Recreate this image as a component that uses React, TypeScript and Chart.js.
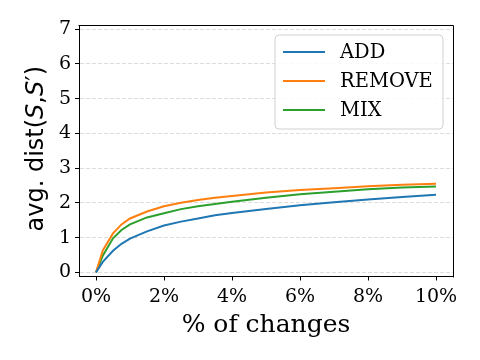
import React, { useEffect, useRef } from "react";
import { Chart, registerables } from "chart.js";

Chart.register(...registerables);

const xValues = [0, 0.2, 0.5, 0.75, 1, 1.5, 2, 2.5, 3, 3.5, 4, 5, 6, 7, 8, 9, 10];
const addValues = [0, 0.3, 0.62, 0.82, 0.97, 1.18, 1.35, 1.46, 1.55, 1.64, 1.71, 1.82, 1.93, 2.02, 2.1, 2.17, 2.23];
const removeValues = [0, 0.63, 1.12, 1.38, 1.55, 1.75, 1.9, 2.0, 2.08, 2.15, 2.2, 2.3, 2.37, 2.42, 2.48, 2.52, 2.55];
const mixValues = [0, 0.48, 0.98, 1.22, 1.38, 1.58, 1.7, 1.82, 1.9, 1.97, 2.03, 2.15, 2.25, 2.32, 2.39, 2.44, 2.47];
const seriesLabels = ["ADD", "REMOVE", "MIX"];
const seriesColors = ["#1f77b4", "#ff7f0e", "#2ca02c"];
const xTitle = "% of changes";

const SERIF = "'DejaVu Serif', serif";
const SANS = "'DejaVu Sans', sans-serif";

const framePlugin = {
  id: "frame",
  afterDraw(chart: any) {
    const { ctx, chartArea } = chart;
    const { left, right, top, bottom } = chartArea;
    ctx.save();
    ctx.strokeStyle = "#000";
    ctx.lineWidth = 1;
    ctx.beginPath();
    ctx.moveTo(Math.round(left) - 0.5, Math.round(top) + 0.5);
    ctx.lineTo(Math.round(right) + 0.5, Math.round(top) + 0.5);
    ctx.lineTo(Math.round(right) + 0.5, Math.round(bottom) + 0.5);
    ctx.stroke();

    // legend
    const bx = right - 178;
    const by = top + 10;
    const bw = 168;
    const bh = 94;
    const r = 4;
    ctx.fillStyle = "rgba(255,255,255,0.85)";
    ctx.strokeStyle = "#d0d0d0";
    ctx.beginPath();
    ctx.moveTo(bx + r, by);
    ctx.arcTo(bx + bw, by, bx + bw, by + bh, r);
    ctx.arcTo(bx + bw, by + bh, bx, by + bh, r);
    ctx.arcTo(bx, by + bh, bx, by, r);
    ctx.arcTo(bx, by, bx + bw, by, r);
    ctx.closePath();
    ctx.fill();
    ctx.stroke();
    chart.data.datasets.forEach((ds: any, i: number) => {
      const cy = by + 17 + i * 29;
      ctx.strokeStyle = ds.borderColor;
      ctx.lineWidth = 2;
      ctx.beginPath();
      ctx.moveTo(bx + 8, cy);
      ctx.lineTo(bx + 50, cy);
      ctx.stroke();
      ctx.fillStyle = "#000";
      ctx.font = `19.5px ${SERIF}`;
      ctx.textBaseline = "middle";
      ctx.textAlign = "left";
      ctx.fillText(ds.label, bx + 65, cy + 1);
    });

    // y-axis label with math italic parts
    const parts: [string, boolean][] = [
      ["avg. dist(", false],
      ["S", true],
      [",", false],
      ["S", true],
      ["\u2032", false],
      [")", false],
    ];
    const size = 24;
    let total = 0;
    const widths = parts.map(([t, it]) => {
      ctx.font = `${it ? "italic " : ""}${size}px ${SANS}`;
      const w = ctx.measureText(t).width;
      total += w;
      return w;
    });
    const cx = 37;
    const cyc = (top + bottom) / 2 - 2;
    ctx.translate(cx, cyc);
    ctx.rotate(-Math.PI / 2);
    let x = -total / 2;
    ctx.fillStyle = "#000";
    ctx.textBaseline = "middle";
    ctx.textAlign = "left";
    parts.forEach(([t, it], i) => {
      ctx.font = `${it ? "italic " : ""}${size}px ${SANS}`;
      ctx.fillText(t, x, 0);
      x += widths[i];
    });
    ctx.restore();
  },
};

export default function App() {
  const ref = useRef<HTMLCanvasElement>(null);
  useEffect(() => {
    if (!ref.current) return;
    const mk = (vals: number[]) => xValues.map((x, i) => ({ x, y: vals[i] }));
    const chart = new Chart(ref.current, {
      type: "line",
      data: {
        datasets: [addValues, removeValues, mixValues].map((v, i) => ({
          label: seriesLabels[i],
          data: mk(v),
          borderColor: seriesColors[i],
          backgroundColor: seriesColors[i],
          borderWidth: 2,
          pointRadius: 0,
          tension: 0,
          fill: false,
        })),
      },
      options: {
        animation: false,
        responsive: false,
        layout: { padding: { left: 0, top: 25, right: 27, bottom: 0 } },
        plugins: { legend: { display: false }, tooltip: { enabled: false } },
        scales: {
          x: {
            type: "linear",
            min: -0.5,
            max: 10.5,
            afterFit: (s: any) => {
              s.height = 83.5;
            },
            ticks: {
              stepSize: 2,
              includeBounds: false,
              maxRotation: 0,
              padding: 5,
              color: "#000",
              font: { family: SERIF, size: 19 },
              callback: (v: any) => `${v}%`,
            },
            grid: {
              drawOnChartArea: false,
              drawTicks: true,
              tickLength: 4,
              tickColor: "#000",
            },
            border: { display: true, color: "#000", width: 1 },
            title: {
              display: true,
              text: xTitle,
              color: "#000",
              font: { family: SERIF, size: 25 },
              padding: { top: 0, bottom: 20 },
            },
          },
          y: {
            type: "linear",
            min: -0.12,
            max: 7.12,
            afterFit: (s: any) => {
              s.width = 79;
            },
            ticks: {
              stepSize: 1,
              includeBounds: false,
              padding: 4,
              color: "#000",
              font: { family: SERIF, size: 19 },
            },
            grid: {
              color: "#dddddd",
              lineWidth: 1,
              drawTicks: true,
              tickLength: 4,
              tickColor: "#000",
            },
            border: { display: true, color: "#000", width: 1, dash: [4, 2] },
          },
        },
      },
      plugins: [framePlugin],
    } as any);
    return () => chart.destroy();
  }, []);
  return (
    <div style={{ position: "absolute", left: 0, top: 0, width: 480, height: 360 }}>
      <canvas ref={ref} width={480} height={360} />
    </div>
  );
}
